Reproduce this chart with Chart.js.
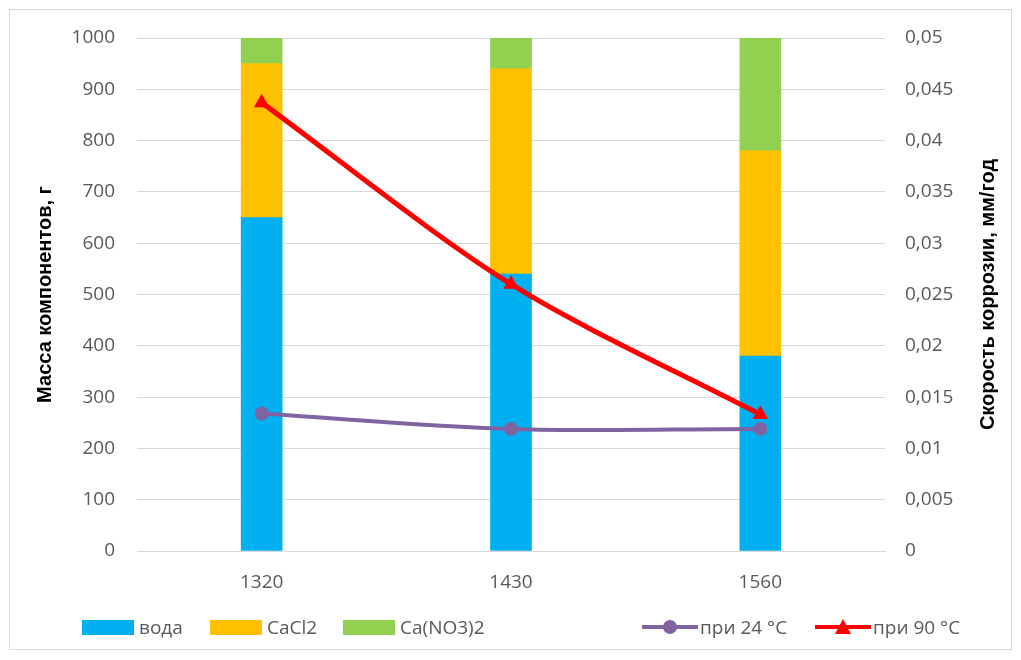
<!DOCTYPE html>
<html lang="ru">
<head>
    <meta charset="UTF-8">
    <title>Масса компонентов и скорость коррозии</title>
    <script src="https://cdn.jsdelivr.net/npm/chart.js"></script>
    <style>
        body { margin: 0; background: #fff; font-family: "Open Sans", sans-serif; }
        .frame { position: absolute; left: 9px; top: 9px; width: 1003px; height: 641px; border: 1px solid #d9d9d9; box-sizing: border-box; }
        .wrap { position: absolute; left: 0; top: 0; width: 1021px; height: 660px; }
        .legend { position: absolute; top: 614px; left: 0; width: 1021px; height: 26px; font-size: 19px; color: #595959; }
        .item { position: absolute; display: flex; align-items: center; height: 26px; }
        .box { width: 52px; height: 15px; margin-right: 5px; }
        .lineSw { position: relative; width: 56px; height: 16px; margin-right: 2px; }
        .lineSw .bar { position: absolute; left: 0; right: 0; top: 6px; height: 4px; }
        .dot { position: absolute; left: 21px; top: 1px; width: 14px; height: 14px; border-radius: 50%; }
        .tri { position: absolute; left: 20px; top: 0; width: 0; height: 0; border-left: 8px solid transparent; border-right: 8px solid transparent; border-bottom: 15px solid #ff0000; }
    </style>
</head>
<body>
    <div class="frame"></div>
    <div class="wrap"><canvas id="chart" width="1021" height="660"></canvas></div>
    <div class="legend">
        <div class="item" style="left:82px"><span class="box" style="background:#00b0f0"></span>вода</div>
        <div class="item" style="left:210px"><span class="box" style="background:#ffc000"></span>CaCl2</div>
        <div class="item" style="left:343px"><span class="box" style="background:#92d050"></span>Ca(NO3)2</div>
        <div class="item" style="left:642px"><span class="lineSw"><span class="bar" style="background:#8064a2"></span><span class="dot" style="background:#8064a2"></span></span>при 24 °C</div>
        <div class="item" style="left:815px"><span class="lineSw"><span class="bar" style="background:#ff0000"></span><span class="tri"></span></span>при 90 °C</div>
    </div>

    <script>
        const categories = ["1320", "1430", "1560"];
        const water = [650, 540, 380];
        const cacl2 = [300, 400, 400];
        const canitrate = [50, 60, 220];
        const rate24 = [0.0134, 0.0119, 0.0119];
        const rate90 = [0.0437, 0.0260, 0.0133];

        const tickFont = { family: "Open Sans", size: 19 };
        const gray = "#595959";

        // axis titles drawn by hand: both read bottom-to-top
        const axisTitles = {
            id: "axisTitles",
            afterDraw(chart) {
                const c = chart.ctx;
                const mid = (chart.chartArea.top + chart.chartArea.bottom) / 2;
                c.save();
                c.fillStyle = "#000";
                c.font = "bold 20px 'Liberation Sans'";
                c.textAlign = "center";
                c.textBaseline = "middle";
                [[45, "Масса компонентов, г"], [988, "Скорость коррозии, мм/год"]].forEach(([x, t]) => {
                    c.save();
                    c.translate(x, mid);
                    c.rotate(-Math.PI / 2);
                    c.fillText(t, 0, 0);
                    c.restore();
                });
                c.restore();
            }
        };

        const ctx = document.getElementById("chart").getContext("2d");
        new Chart(ctx, {
            type: "bar",
            data: {
                labels: categories,
                datasets: [
                    { label: "при 24 °C", type: "line", data: rate24, yAxisID: "y1", order: 0,
                      borderColor: "#8064a2", backgroundColor: "#8064a2", borderWidth: 4,
                      pointStyle: "circle", pointRadius: 7, pointBorderWidth: 0, tension: 0.35 },
                    { label: "при 90 °C", type: "line", data: rate90, yAxisID: "y1", order: 0,
                      borderColor: "#ff0000", backgroundColor: "#ff0000", borderWidth: 5,
                      pointStyle: "triangle", pointRadius: 9, pointBorderWidth: 0, tension: 0.3 },
                    { label: "вода", data: water, backgroundColor: "#00b0f0", order: 1, barThickness: 41 },
                    { label: "CaCl2", data: cacl2, backgroundColor: "#ffc000", order: 1, barThickness: 41 },
                    { label: "Ca(NO3)2", data: canitrate, backgroundColor: "#92d050", order: 1, barThickness: 41 }
                ]
            },
            options: {
                responsive: false,
                animation: false,
                layout: { padding: { top: 38, left: 0, right: 0, bottom: 0 } },
                plugins: { legend: { display: false }, tooltip: { enabled: false } },
                scales: {
                    x: {
                        stacked: true,
                        grid: { display: false },
                        border: { color: "#d9d9d9" },
                        ticks: { font: tickFont, color: gray, padding: 12 },
                        afterFit(s) { s.height = 109; }
                    },
                    y: {
                        stacked: true, min: 0, max: 1000,
                        ticks: { stepSize: 100, font: tickFont, color: gray, padding: 22,
                                 callback: v => String(v) },
                        grid: { color: "#d9d9d9", drawTicks: false },
                        border: { display: false },
                        afterFit(s) { s.width = 137; }
                    },
                    y1: {
                        position: "right", min: 0, max: 0.05,
                        ticks: { stepSize: 0.005, font: tickFont, color: gray, padding: 20,
                                 callback: v => v === 0 ? "0" : String(+v.toFixed(3)).replace(".", ",") },
                        grid: { display: false, drawTicks: false },
                        border: { display: false },
                        afterFit(s) { s.width = 136; }
                    }
                }
            },
            plugins: [axisTitles]
        });
    </script>
</body>
</html>
